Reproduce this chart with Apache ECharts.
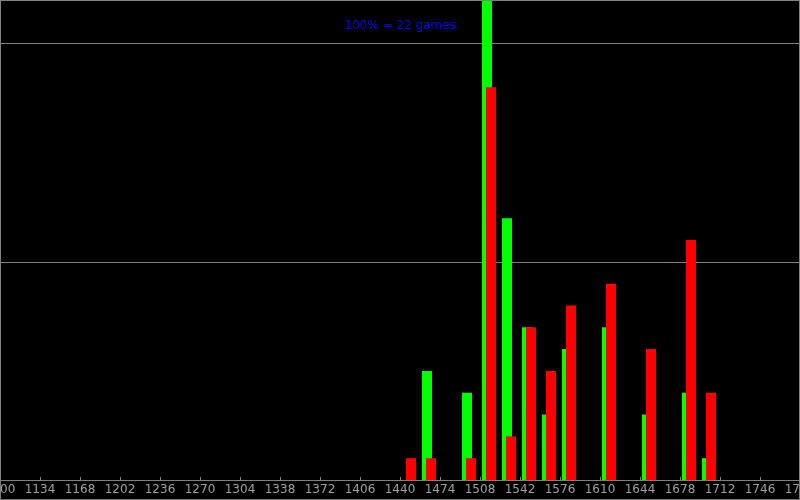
<!DOCTYPE html>
<html>
<head>
<meta charset="utf-8">
<style>html,body{margin:0;padding:0;background:#000;}#c{width:800px;height:500px;}</style>
<script src="https://cdn.jsdelivr.net/npm/echarts@6/dist/echarts.min.js"></script>
</head>
<body>
<div id="c"></div>
<script>
// Bin centres (rating) and counts
var binCenters = [1447.65, 1464.65, 1481.65, 1498.65, 1515.65, 1532.65, 1549.65, 1566.65, 1583.65, 1600.65, 1617.65, 1634.65, 1651.65, 1668.65, 1685.65, 1702.65];
var greenCounts = [0, 5, 0, 4, 23, 12, 7, 3, 6, 0, 7, 0, 3, 0, 4, 1];
var redCounts   = [1, 1, 0, 1, 18, 2, 7, 5, 8, 0, 9, 0, 6, 0, 11, 4];
var xMin = 1100, xMax = 1780, xStep = 34;
var titleText = '100% = 22 games';

function pairs(vals) {
  var out = [];
  for (var i = 0; i < binCenters.length; i++) {
    if (vals[i] > 0) out.push([binCenters[i], vals[i]]);
  }
  return out;
}

var chart = echarts.init(document.getElementById('c'), null, {renderer: 'canvas'});
chart.setOption({
  backgroundColor: '#000000',
  animation: false,
  title: {
    text: titleText,
    left: 'center',
    top: 15,
    textStyle: {color: '#0000ff', fontSize: 12, fontWeight: 'normal', fontFamily: 'DejaVu Sans'}
  },
  grid: {left: 0, right: 0, top: 0, bottom: 20, containLabel: false, outerBoundsMode: 'none'},
  xAxis: {
    type: 'value',
    min: xMin, max: xMax, interval: xStep,
    axisLine: {show: true, onZero: false, lineStyle: {color: '#808080', width: 1}},
    axisTick: {show: true, inside: true, length: 3, lineStyle: {color: '#808080'}},
    axisLabel: {color: '#a0a0a0', fontSize: 12, fontFamily: 'DejaVu Sans', margin: 4, showMinLabel: true, showMaxLabel: true, hideOverlap: false,
      formatter: function (v) { return String(v); }},
    splitLine: {show: false}
  },
  yAxis: {
    type: 'value',
    min: 0, max: 22, interval: 10,
    axisLine: {show: false},
    axisTick: {show: false},
    axisLabel: {show: false},
    splitLine: {show: true, lineStyle: {color: '#808080', width: 1}}
  },
  series: [
    {
      type: 'bar', name: 'green', data: pairs(greenCounts),
      barWidth: 10, barGap: '-60%',
      itemStyle: {color: '#00ff00'}, clip: true
    },
    {
      type: 'bar', name: 'red', data: pairs(redCounts),
      barWidth: 10, barGap: '-60%',
      itemStyle: {color: '#ff0000'}, clip: true
    }
  ],
  graphic: [{
    type: 'rect', silent: true, z: 100,
    shape: {x: 0.5, y: 0.5, width: 799, height: 499},
    style: {fill: null, stroke: '#808080', lineWidth: 1}
  }]
});
</script>
</body>
</html>
